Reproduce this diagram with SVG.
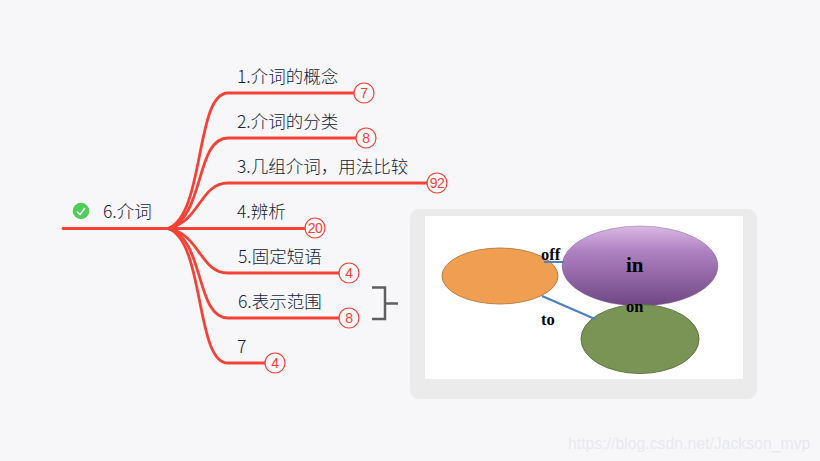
<svg xmlns="http://www.w3.org/2000/svg" width="820" height="461" viewBox="0 0 820 461">
<defs>
<linearGradient id="pg" x1="0" y1="0" x2="0" y2="1"><stop offset="0" stop-color="#d9b9e4"/><stop offset="0.3" stop-color="#b083c2"/><stop offset="1" stop-color="#6f4684"/></linearGradient>
</defs>
<style>
.t{font-family:"Noto Sans CJK SC","Noto Sans",sans-serif;font-size:17.5px;font-weight:300;fill:#18233a}
.b{fill:none;stroke:#f44336;stroke-width:2.800;stroke-linecap:round}
.bc{fill:#f8f8fb;stroke:#f44336;stroke-width:1.200}
.bt{font-family:"Liberation Sans",Arial,sans-serif;font-size:14px;letter-spacing:-0.500px;fill:#f44336;text-anchor:middle}
.s{font-family:"Liberation Serif","Times New Roman",serif;font-weight:bold;fill:#000}
</style>
<rect width="820" height="461" fill="#f7f7fa"/>
<g id="connectors">
<path class="b" d="M63 228.500H170"/>
<path class="b" d="M168 228.500C205 215 195 93 228 93H354"/>
<path class="b" d="M168 228.500C205 218 195 138 228 138H356"/>
<path class="b" d="M168 228.500C200 222 200 183 228 183H427"/>
<path class="b" d="M168 228.500H305"/>
<path class="b" d="M168 228.500C200 234 200 273 228 273H339"/>
<path class="b" d="M168 228.500C205 238 195 318 228 318H339"/>
<path class="b" d="M168 228.500C205 241 195 363 228 363H265"/>
</g>
<g id="root"><circle cx="81" cy="211" r="9" fill="#fff"/><circle cx="81" cy="211" r="8.300" fill="#4fce5a"/><path d="M77 211.500L80 214.500L85 208" fill="none" stroke="#fff" stroke-width="1.500"/><text class="t" x="103" y="218">6.介词</text></g>
<g id="n1"><text class="t" x="237" y="83">1.介词的概念</text><circle class="bc" cx="364" cy="93" r="10"/><text class="bt" x="364" y="98">7</text></g>
<g id="n2"><text class="t" x="237" y="128">2.介词的分类</text><circle class="bc" cx="366" cy="138" r="10"/><text class="bt" x="366" y="143">8</text></g>
<g id="n3"><text class="t" x="237" y="173">3.几组介词，用法比较</text><circle class="bc" cx="437" cy="183" r="10"/><text class="bt" x="437" y="188">92</text></g>
<g id="n4"><text class="t" x="237" y="218">4.辨析</text><circle class="bc" cx="315" cy="228" r="10"/><text class="bt" x="315" y="233">20</text></g>
<g id="n5"><text class="t" x="238" y="263">5.固定短语</text><circle class="bc" cx="349" cy="273" r="10"/><text class="bt" x="349" y="278">4</text></g>
<g id="n6"><text class="t" x="238" y="308">6.表示范围</text><circle class="bc" cx="349" cy="318" r="10"/><text class="bt" x="349" y="323">8</text></g>
<g id="n7"><text class="t" x="237" y="353">7</text><circle class="bc" cx="275" cy="363" r="10"/><text class="bt" x="275" y="368">4</text></g>
<path id="bracket" d="M372 287.500H385V319H372M385 303.500H398" fill="none" stroke="#5f5f5f" stroke-width="2.500"/>
<g id="image">
<rect x="410" y="209" width="347" height="190" rx="9" fill="#ebebeb"/>
<rect x="425" y="216" width="318" height="163" fill="#fff"/>
<ellipse cx="500" cy="276" rx="58" ry="28" fill="#f09f52" stroke="#b97f45"/>
<ellipse cx="640" cy="266" rx="78" ry="40" fill="url(#pg)" stroke="#8a6a99" stroke-width="0.500"/>
<ellipse cx="640" cy="339" rx="59" ry="34.500" fill="#799455" stroke="#5e7543"/>
<path d="M544 262H564M542 296L595 319" stroke="#4f81bd" stroke-width="2.200" fill="none"/>
<text class="s" x="541" y="260" font-size="16.500">off</text>
<text class="s" x="626" y="272" font-size="21">in</text>
<text class="s" x="626" y="312" font-size="16.500">on</text>
<text class="s" x="541" y="325" font-size="16.500">to</text>
</g>
<text x="568" y="449" font-family="Liberation Sans, Arial, sans-serif" font-size="15.800" fill="#e9e9ed">https://blog.csdn.net/Jackson_mvp</text>
</svg>
